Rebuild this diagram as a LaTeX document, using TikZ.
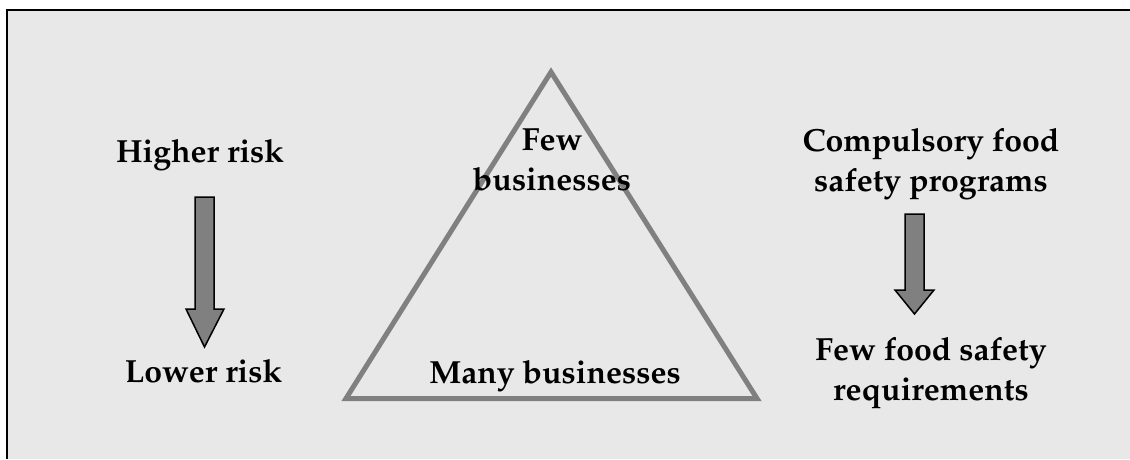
\documentclass[tikz,border=0pt]{standalone}
\usepackage[T1]{fontenc}
\usepackage{mathpazo}

\definecolor{panelgray}{HTML}{E8E8E8}
\definecolor{shapegray}{HTML}{808080}

\tikzset{
  label/.style={font=\bfseries\fontsize{32}{39.5}\selectfont, align=center, anchor=base, inner sep=0pt},
  blockarrow/.style={fill=shapegray, draw=black, line width=1.5pt, line join=miter}
}

\begin{document}
\begin{tikzpicture}[x=10pt, y=10pt]

\useasboundingbox (0,0) rectangle (113,45.9);

\fill[panelgray] (0.7,0) rectangle (113,44.9);
\draw[line width=1.8pt] (0.7,0)--(0.7,44.9)--(113,44.9);

% left column
\node[label] (higher) at (20.0,29.7) {Higher risk};
\node[label] (lower) at (20.35,7.7) {Lower risk};
\draw[blockarrow] (19.5,26.2)--(21.4,26.2)--(21.4,15.0)--(22.4,15.0)--(20.45,11.2)--(18.6,15.0)--(19.5,15.0)--cycle;

% pyramid
\draw[shapegray, line width=5pt] (55.1,38.7)--(75.7,6.05)--(34.6,6.05)--cycle;
\node[label] (few) at (55.2,26.9) {Few\\businesses};
\node[label] (many) at (55.5,7.6) {Many businesses};

% right column
\node[label] (compulsory) at (93.1,26.8) {Compulsory food\\safety programs};
\node[label] (requirements) at (93.1,5.9) {Few food safety\\requirements};
\draw[blockarrow] (90.5,24.5)--(92.4,24.5)--(92.4,16.9)--(93.4,16.9)--(91.45,14.5)--(89.5,16.9)--(90.5,16.9)--cycle;

\end{tikzpicture}
\end{document}
